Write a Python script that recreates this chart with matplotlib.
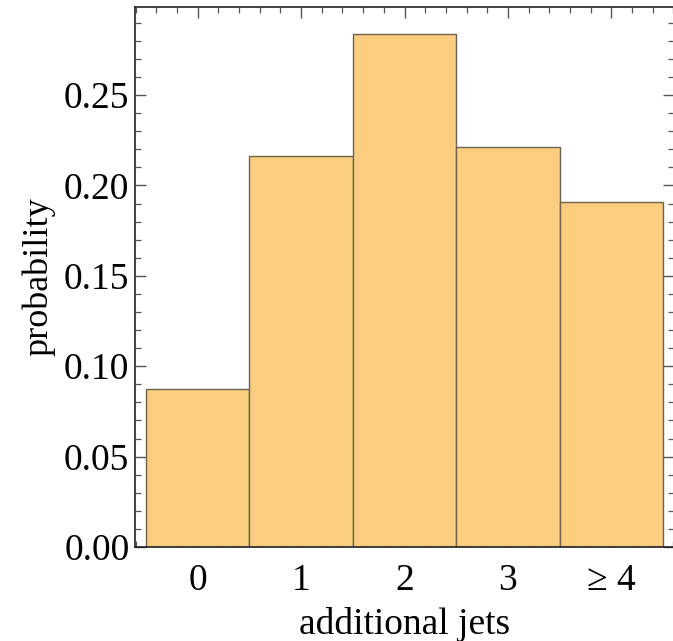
import matplotlib
matplotlib.use("Agg")
import matplotlib.pyplot as plt
import numpy as np
from matplotlib.ticker import MultipleLocator, FixedLocator

categories = ["0", "1", "2", "3", "\u2265 4"]
probabilities = [0.0872, 0.2163, 0.2836, 0.2214, 0.1907]
y_ticks = [0.00, 0.05, 0.10, 0.15, 0.20, 0.25]
y_tick_labels = ["0.00", "0.05", "0.10", "0.15", "0.20", "0.25"]

plt.rcParams['font.family'] = ['Liberation Serif', 'DejaVu Serif']

fig = plt.figure(figsize=(6.73, 6.41), dpi=100)
ax = fig.add_axes([135/673, (641-547)/641, (674-135)/673, (547-7)/641])

x = np.arange(len(categories))
ax.bar(x, probabilities, width=1.0, color='#FBCD7E', edgecolor='#6e6250', linewidth=1.0, zorder=2)

ax.set_xlim(-0.606, 4.606)
ax.set_ylim(0, 0.2987)

ax.set_xticks(x)
ax.set_xticklabels(categories)
ax.xaxis.set_minor_locator(FixedLocator([v for v in np.arange(-0.6, 4.61, 0.2) if abs(v - round(v)) > 1e-6]))
ax.set_yticks(y_ticks)
ax.set_yticklabels(y_tick_labels)
ax.yaxis.set_minor_locator(MultipleLocator(0.01))

ax.tick_params(which='both', direction='in', top=True, right=True, labelsize=27, colors='#555555', labelcolor='black')
ax.tick_params(which='major', length=8, width=1.0)
ax.tick_params(which='minor', length=4, width=0.9)
ax.tick_params(axis='x', which='major', pad=12)
ax.tick_params(axis='y', which='major', pad=4)

for s in ax.spines.values():
    s.set_color('#222222')
    s.set_linewidth(1.2)

ax.set_xlabel("additional jets", fontsize=27, labelpad=6)
ax.set_ylabel("probability", fontsize=26, labelpad=6)

fig.savefig("out.png", dpi=100)
